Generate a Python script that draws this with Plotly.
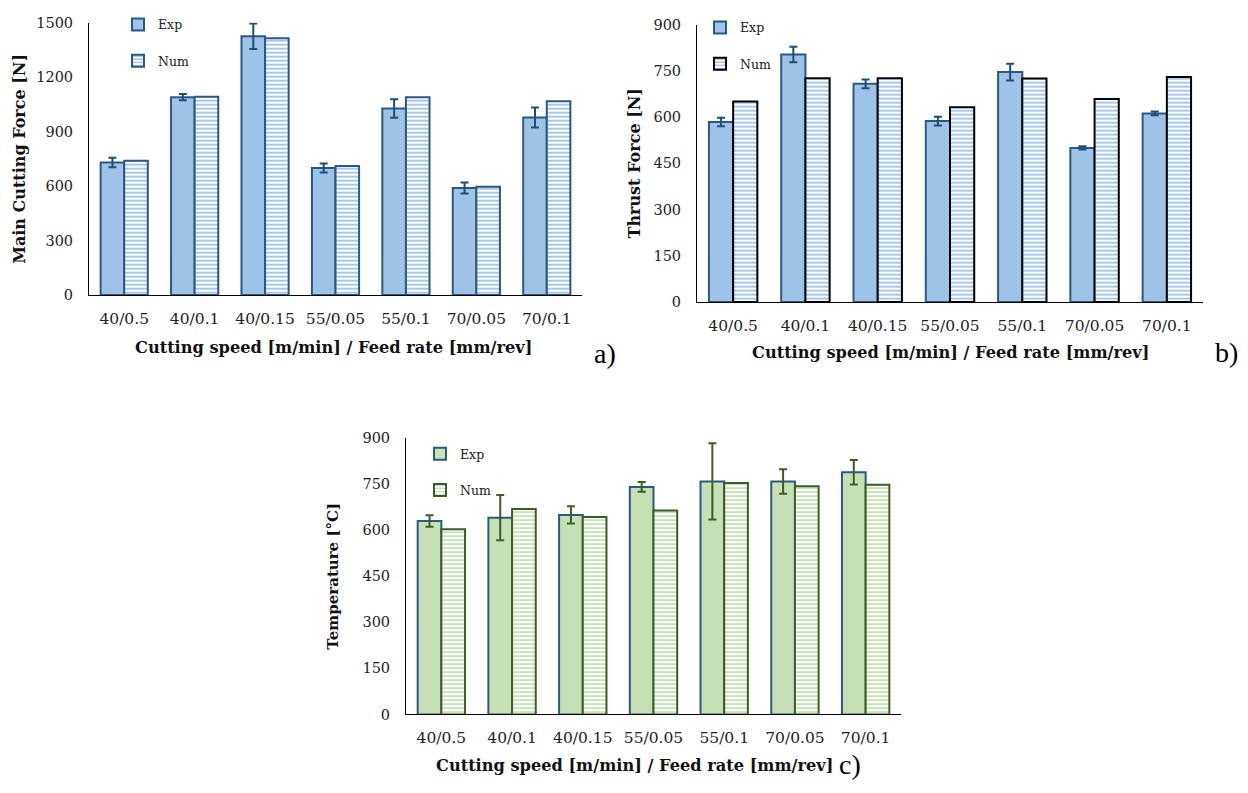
import plotly.graph_objects as go

categories = ["40/0.5", "40/0.1", "40/0.15", "55/0.05", "55/0.1", "70/0.05", "70/0.1"]

a_exp = [730, 1090, 1425, 700, 1027, 590, 978]
a_exp_err = [26, 17, 70, 25, 51, 30, 55]
a_num = [740, 1092, 1414, 711, 1090, 597, 1067]

b_exp = [584, 803, 708, 587, 746, 500, 612]
b_exp_err = [14, 25, 14, 14, 27, 5, 6]
b_num = [651, 726, 726, 632, 725, 659, 730]

c_exp = [630, 641, 650, 741, 759, 759, 789]
c_exp_err = [19, 74, 28, 16, 124, 40, 40]
c_num = [603, 669, 643, 664, 754, 743, 748]

y_ticks_a = [0, 300, 600, 900, 1200, 1500]
y_ticks_bc = [0, 150, 300, 450, 600, 750, 900]

x_title = "Cutting speed [m/min] / Feed rate [mm/rev]"

W, H = 1248, 793
def fx(x):
    return x / W
def fy(y):
    return 1 - y / H

BLUE_FILL = "#9DC3E6"
BLUE_LINE = "#2B5886"
BLUE_ERR = "#1F4E79"
GREEN_FILL = "#C5E0B4"
GREEN_LINE = "#3B5E24"
SERIF = "DejaVu Serif"

fig = go.Figure()

def add_pair(xa, ya, legend, exp, err, num, exp_fill, exp_line, num_stripe, num_line, err_color):
    fig.add_trace(go.Bar(
        x=categories, y=exp, name="Exp", xaxis=xa, yaxis=ya, legend=legend,
        legendgroup=legend + "exp",
        marker=dict(color=exp_fill, line=dict(color=exp_line, width=2)),
        error_y=dict(type="data", array=err, visible=True, color=err_color, thickness=2, width=4),
    ))
    fig.add_trace(go.Bar(
        x=categories, y=num, name="Num", xaxis=xa, yaxis=ya, legend=legend,
        legendgroup=legend + "num",
        marker=dict(color="white", line=dict(color=num_line, width=2),
                    pattern=dict(shape="-", fgcolor=num_stripe, bgcolor="white",
                                 size=4, solidity=0.45, fillmode="replace")),
    ))

add_pair("x", "y", "legend", a_exp, a_exp_err, a_num, BLUE_FILL, BLUE_LINE, BLUE_FILL, BLUE_LINE, BLUE_ERR)
add_pair("x2", "y2", "legend2", b_exp, b_exp_err, b_num, BLUE_FILL, BLUE_LINE, BLUE_FILL, "#000000", BLUE_ERR)
add_pair("x3", "y3", "legend3", c_exp, c_exp_err, c_num, GREEN_FILL, BLUE_LINE, GREEN_FILL, GREEN_LINE, GREEN_LINE)

def tickfont(size):
    return dict(family=SERIF, size=size, color="#222222")

def xaxis_cfg(domain, anchor):
    return dict(domain=domain, anchor=anchor, type="category", showline=True, linecolor="black",
                linewidth=1, showgrid=False, ticks="", tickfont=tickfont(15.5), ticklabelstandoff=9,
                fixedrange=True)

def yaxis_cfg(domain, anchor, rng, tickvals, title, title_size, standoff):
    return dict(domain=domain, anchor=anchor, range=rng, tickvals=tickvals, showline=True,
                linecolor="black", linewidth=1, showgrid=False, zeroline=False, ticks="",
                tickfont=tickfont(14.5), ticklabelstandoff=12,
                title=dict(text=title, font=dict(family=SERIF, size=title_size, color="#111111",
                                                 weight="bold"), standoff=standoff),
                fixedrange=True)

legend_common = dict(font=dict(family=SERIF, size=12.5, color="#222222"), bgcolor="rgba(0,0,0,0)",
                     tracegroupgap=17, xanchor="left", yanchor="top", itemwidth=30,
                     traceorder="grouped")

label_font = dict(family="Liberation Serif", size=28, color="black")

def xtitle_ann(x, y, size):
    return dict(text=x_title, x=fx(x), y=fy(y), xref="paper", yref="paper", showarrow=False,
                xanchor="center", yanchor="middle",
                font=dict(family=SERIF, size=size, color="#111111", weight="bold"))

fig.update_layout(
    width=W, height=H, margin=dict(l=0, r=0, t=0, b=0),
    paper_bgcolor="white", plot_bgcolor="white",
    barmode="group", bargap=0.33, bargroupgap=0,
    showlegend=True,
    xaxis=xaxis_cfg([fx(89), fx(582)], "y"),
    yaxis=yaxis_cfg([fy(293), fy(15)], "x", [0, 1500], y_ticks_a, "Main Cutting Force [N]", 16, 6),
    xaxis2=xaxis_cfg([fx(697), fx(1203)], "y2"),
    yaxis2=yaxis_cfg([fy(300), fy(17)], "x2", [0, 900], y_ticks_bc, "Thrust Force [N]", 16, 8),
    xaxis3=xaxis_cfg([fx(406), fx(901)], "y3"),
    yaxis3=yaxis_cfg([fy(721), fy(439)], "x3", [0, 900], y_ticks_bc, "Temperature [°C]", 15, 20),
    legend=dict(x=fx(118), y=fy(2), **legend_common),
    legend2=dict(x=fx(700), y=fy(5), **legend_common),
    legend3=dict(x=fx(420), y=fy(440), **legend_common),
    annotations=[
        xtitle_ann(333, 347, 16.2),
        xtitle_ann(950, 352, 16.2),
        xtitle_ann(634, 773, 16.2),
        dict(text="a)", x=fx(605), y=fy(353), xref="paper", yref="paper", showarrow=False,
             xanchor="center", yanchor="middle", font=label_font),
        dict(text="b)", x=fx(1226), y=fy(352), xref="paper", yref="paper", showarrow=False,
             xanchor="center", yanchor="middle", font=label_font),
        dict(text="c)", x=fx(850), y=fy(772), xref="paper", yref="paper", showarrow=False,
             xanchor="center", yanchor="middle", font=label_font),
    ],
)

fig.write_html("out.html", config={"displayModeBar": False},
               post_script="document.body.style.margin='0';document.body.style.overflow='hidden';")
